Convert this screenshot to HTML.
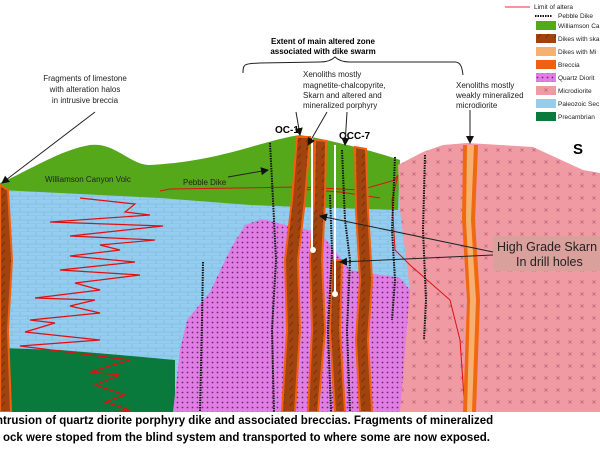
<!DOCTYPE html>
<html><head><meta charset="utf-8"><style>
html,body{margin:0;padding:0;background:#fff;width:600px;height:450px;overflow:hidden}
svg{display:block}
text{font-family:"Liberation Sans",Arial,sans-serif}
</style></head><body>
<svg width="600" height="450" viewBox="0 0 600 450">
<defs>
<pattern id="lime" width="16" height="8" patternUnits="userSpaceOnUse">
<rect width="16" height="8" fill="#93cdf0"/>
<path d="M0 8H16M0 4H16M4 0V4M12 4V8" stroke="#7fb1d4" stroke-width="0.6"/>
</pattern>
<pattern id="qd" width="5" height="5" patternUnits="userSpaceOnUse">
<rect width="5" height="5" fill="#e07ee6"/>
<circle cx="2.5" cy="2.5" r="0.9" fill="#6a2a6a"/>
</pattern>
<pattern id="micro" width="12" height="12" patternUnits="userSpaceOnUse">
<rect width="12" height="12" fill="#f09aa4"/>
<path d="M4.5 4.5l3 3M7.5 4.5l-3 3" stroke="#b06070" stroke-width="0.6"/>
</pattern>
<pattern id="dike" width="8" height="8" patternUnits="userSpaceOnUse">
<rect width="8" height="8" fill="#a0430e"/>
<path d="M2 6l3-4" stroke="#5a2000" stroke-width="0.6"/>
</pattern>
<marker id="ar" markerWidth="8" markerHeight="8" refX="7" refY="4" orient="auto"><path d="M0 0L8 4L0 8z" fill="#111"/></marker>
</defs>
<!-- limestone base -->
<rect x="0" y="185" width="410" height="227" fill="url(#lime)"/>
<!-- precambrian -->
<path d="M0 348 L60 350 L120 355 L175 360 L175 412 L0 412Z" fill="#0a7a3c"/>
<!-- green volcanic -->
<path d="M0 183 C30 170 60 150 90 145 C115 142 130 165 150 165 C185 163 210 158 240 150 C265 143 285 137 300 135 C330 140 370 150 400 160 L398 210 L300 207 L250 205 L160 198 L0 190Z" fill="#55a81a"/>
<!-- quartz diorite -->
<path d="M173 412 L180 350 L187 320 L210 292 L230 250 L245 225 L262 219 L290 226 L320 232 L350 270 L400 278 L410 290 L440 330 L447 360 L448 412Z" fill="url(#qd)"/>
<!-- microdiorite -->
<path d="M398 165 L423 152 L443 145 L467 143 L533 147 L583 170 L600 173 L600 412 L400 412 L410 290 L400 210Z" fill="url(#micro)"/>
<!-- red alteration lines -->
<path d="M80 198 L135 204 L125 212 L150 215 L50 222 L163 226 L70 236 L155 240 L100 245 L120 250 L70 256 L135 262 L60 270 L140 275 L75 283 L100 290 L35 298 L95 300 L70 306 L100 313 L30 320 L55 323 L25 332 L100 340 L20 346 L130 360 L90 372 L120 375 L95 385 L125 395 L105 402 L130 410 L115 412" fill="none" stroke="#e01010" stroke-width="1.2"/>
<path d="M160 191 L170 189 L300 187 L360 190 L395 180 L398 175 L392 200 L395 250 L410 265 L450 300 L460 340 L465 412" fill="none" stroke="#e01010" stroke-width="1"/>
<path d="M300 189 L340 192 L380 198" fill="none" stroke="#e01010" stroke-width="1"/>
<!-- dikes -->
<g stroke="#f06010" stroke-width="2" fill="url(#dike)">
<path d="M0 185 L8 190 L12 260 L8 330 L11 412 L0 412Z"/>
<path d="M297 137 L310 137 L305 200 L298 260 L300 330 L295 412 L282 412 L287 330 L285 260 L292 200Z"/>
<path d="M315 140 L326 141 L325 200 L322 260 L325 330 L318 412 L308 412 L312 330 L310 260 L314 200Z"/>
<path d="M355 147 L366 149 L368 210 L372 280 L368 340 L372 412 L360 412 L356 340 L360 280 L356 210Z"/>
<path d="M332 260 L342 260 L340 330 L345 412 L335 412 L330 330Z"/>
</g>
<path d="M463 145 L478 145 L475 220 L480 300 L476 412 L463 412 L467 300 L462 220Z" fill="#f06810"/>
<path d="M467 145 L474 145 L471 220 L476 300 L472 412 L467 412 L470 300 L466 220Z" fill="#f6b070"/>
<!-- drill holes -->
<path d="M312 137 V252 M335 145 V296" stroke="#fff" stroke-width="2"/>
<circle cx="313" cy="250" r="3" fill="#fff"/><circle cx="335" cy="294" r="3" fill="#fff"/>
<!-- pebble dikes -->
<g fill="none" stroke="#111" stroke-width="2" stroke-dasharray="1.5 1">
<path d="M203 262 L202 320 L200 412"/>
<path d="M270 143 L273 200 L276 260 L272 330 L274 412"/>
<path d="M342 150 L345 220 L350 260 L347 330 L350 412"/>
<path d="M330 195 L332 250 L328 330 L331 412"/>
<path d="M395 157 L392 230 L395 280 L392 320"/>
<path d="M425 155 L423 230 L426 300 L424 340"/>
</g>
<!-- bottom text -->
<rect x="0" y="412" width="600" height="38" fill="#fff"/>
<text x="-4" y="424" font-size="11.5" font-weight="bold">ntrusion of quartz diorite porphyry dike and associated breccias. Fragments of mineralized</text>
<text x="3" y="441" font-size="11.5" font-weight="bold">ock were stoped from the blind system and transported to where some are now exposed.</text>
<!-- annotations -->
<g font-size="8" fill="#222">
<text x="85" y="81" text-anchor="middle">Fragments of limestone</text>
<text x="85" y="92" text-anchor="middle">with alteration halos</text>
<text x="85" y="103" text-anchor="middle">in intrusive breccia</text>
<text x="303" y="77">Xenoliths mostly</text>
<text x="303" y="88">magnetite-chalcopyrite,</text>
<text x="303" y="98">Skarn and altered and</text>
<text x="303" y="108">mineralized porphyry</text>
<text x="456" y="88">Xenoliths mostly</text>
<text x="456" y="98">weakly mineralized</text>
<text x="456" y="108">microdiorite</text>
<text x="45" y="182">Williamson Canyon Volc</text>
<text x="183" y="185">Pebble Dike</text>
</g>
<text x="323" y="44" font-size="8" font-weight="bold" text-anchor="middle">Extent of main altered zone</text>
<text x="323" y="54" font-size="8" font-weight="bold" text-anchor="middle">associated with dike swarm</text>
<path d="M243 73 C243 63 245 64 260 63 L320 62 C328 62 332 60 335 57 C338 60 342 62 350 62 L455 62 C460 62 462 66 463 75" fill="none" stroke="#222" stroke-width="1"/>
<text x="275" y="133" font-size="10" font-weight="bold">OC-1</text>
<text x="339" y="139" font-size="10" font-weight="bold">OCC-7</text>
<text x="573" y="154" font-size="15" font-weight="bold">S</text>
<g stroke="#222" stroke-width="1" marker-end="url(#ar)" fill="none">
<path d="M95 112 L2 183"/>
<path d="M296 112 L300 135"/>
<path d="M327 112 L308 145"/>
<path d="M347 112 L345 145"/>
<path d="M470 110 L470 143"/>
<path d="M228 177 L268 170"/>
<path d="M493 252 L320 216"/>
<path d="M493 255 L340 262"/>
</g>
<rect x="493" y="236" width="107" height="35" fill="#d9a09c"/>
<text x="497" y="251" font-size="12.5" fill="#222">High Grade Skarn</text>
<text x="516" y="266" font-size="12.5" fill="#222">In drill holes</text>
<!-- legend -->
<g font-size="6.5" fill="#222">
<path d="M505 7 H530" stroke="#e03030" stroke-width="1"/><text x="534" y="9">Limit of altera</text>
<path d="M535 16 H552" stroke="#111" stroke-width="2" stroke-dasharray="1.5 1"/><text x="558" y="18">Pebble Dike</text>
<rect x="536" y="21" width="20" height="9" fill="#55a81a"/><text x="558" y="28">Williamson Ca</text>
<rect x="536" y="34" width="20" height="9" fill="url(#dike)"/><text x="558" y="41">Dikes with ska</text>
<rect x="536" y="47" width="20" height="9" fill="#f6b070"/><text x="558" y="54">Dikes with Mi</text>
<rect x="536" y="60" width="20" height="9" fill="#f06010"/><text x="558" y="67">Breccia</text>
<rect x="536" y="73" width="20" height="9" fill="url(#qd)"/><text x="558" y="80">Quartz Diorit</text>
<rect x="536" y="86" width="20" height="9" fill="url(#micro)"/><text x="558" y="93">Microdiorite</text>
<rect x="536" y="99" width="20" height="9" fill="#93cdf0"/><text x="558" y="106">Paleozoic Sec</text>
<rect x="536" y="112" width="20" height="9" fill="#0a7a3c"/><text x="558" y="119">Precambrian</text>
</g>
</svg>
</body></html>
